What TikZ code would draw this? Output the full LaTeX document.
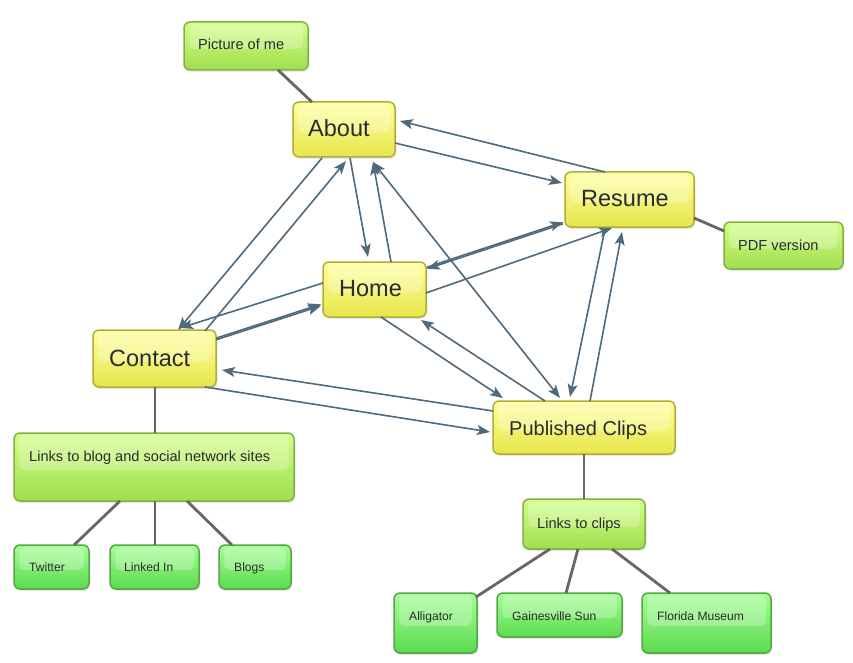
\documentclass[tikz,border=0pt]{standalone}
\usepackage{fontspec}
\setmainfont{Liberation Sans}
\usetikzlibrary{arrows.meta,fit,shadows}
\definecolor{yTop}{HTML}{FFFFA0}
\definecolor{yBot}{HTML}{E6E64A}
\definecolor{yBrd}{HTML}{B2AC3A}
\definecolor{gTop}{HTML}{D2FF88}
\definecolor{gBot}{HTML}{A0DE4E}
\definecolor{gBrd}{HTML}{86AE46}
\definecolor{lTop}{HTML}{A4FF94}
\definecolor{lBot}{HTML}{5CDA50}
\definecolor{lBrd}{HTML}{56A646}
\definecolor{arrc}{HTML}{4E6A7C}
\definecolor{hier}{HTML}{666666}
\definecolor{txtc}{HTML}{2B2B2B}
\begin{document}
\begin{tikzpicture}[x=1pt,y=-1pt,
  boxbase/.style={rounded corners=6pt, line width=1.5pt, inner sep=0pt,
    drop shadow={shadow xshift=1.5pt, shadow yshift=-2pt, opacity=0.18}},
  ybox/.style={boxbase, draw=yBrd, top color=yTop, bottom color=yBot},
  gbox/.style={boxbase, draw=gBrd, top color=gTop, bottom color=gBot},
  lbox/.style={boxbase, draw=lBrd, top color=lTop, bottom color=lBot},
  txt/.style={anchor=base west, inner sep=0pt, text=txtc},
  bigt/.style={txt, font=\fontsize{23.5}{28}\selectfont},
  midt/.style={txt, font=\fontsize{20}{24}\selectfont},
  smt/.style={txt, font=\fontsize{14.6}{17}\selectfont},
  xst/.style={txt, font=\fontsize{12.1}{14}\selectfont},
  arr/.style={draw=arrc, line width=1.6pt, -{Stealth[length=13pt,width=10pt,inset=3pt]}},
  harr/.style={draw=arrc, line width=1.6pt, {Stealth[length=13pt,width=10pt,inset=3pt]}-{Stealth[length=13pt,width=10pt,inset=3pt]}},
  hline/.style={draw=hier, line width=2.8pt},
  gloss/.style={fill=white, opacity=0.26, rounded corners=5pt}]
\useasboundingbox (0,0) rectangle (853,663);

% ---------- boxes
\node[gbox, fit={(184,22)(308,70)}]   (pic) {};
\node[ybox, fit={(293,102)(395,157)}] (about) {};
\node[ybox, fit={(565,172)(694,227)}] (resume) {};
\node[gbox, fit={(724,222)(843,269)}] (pdf) {};
\node[ybox, fit={(323,262)(426,317)}] (home) {};
\node[ybox, fit={(93,330)(216,387)}]  (contact) {};
\node[ybox, fit={(493,401)(675,454)}] (pc) {};
\node[gbox, fit={(14,433)(294,501)}]  (blog) {};
\node[lbox, fit={(14,545)(89,589)}]   (twitter) {};
\node[lbox, fit={(110,545)(199,589)}] (linkedin) {};
\node[lbox, fit={(219,545)(291,589)}] (blogs) {};
\node[gbox, fit={(523,499)(645,549)}] (clips) {};
\node[lbox, fit={(394,593)(477,653)}] (alligator) {};
\node[lbox, fit={(497,593)(622,637)}] (gsun) {};
\node[lbox, fit={(642,593)(771,653)}] (fmus) {};

% ---------- glossy highlights
\foreach \n in {pic,about,resume,pdf,home,contact,pc,blog,twitter,linkedin,blogs,clips,alligator,gsun,fmus}
  \fill[gloss] ([shift={(6,3)}]\n.north west) rectangle ([shift={(-6,3)}]\n.east);

% ---------- texts
\node[smt]  (picT)      at (198,49.8)  {Picture of me};
\node[bigt] (aboutT)    at (308,136.6) {About};
\node[bigt] (resumeT)   at (581,206.5) {Resume};
\node[smt]  (pdfT)      at (738,250.5) {PDF version};
\node[bigt] (homeT)     at (339,296.5) {Home};
\node[bigt] (contactT)  at (109,366.5) {Contact};
\node[midt] (pcT)       at (509,435.3) {Published Clips};
\node[smt]  (blogT)     at (29,461.4)  {Links to blog and social network sites};
\node[xst]  (twitterT)  at (29,571.4)  {Twitter};
\node[xst]  (linkedinT) at (124,571.4) {Linked In};
\node[xst]  (blogsT)    at (234,571.4) {Blogs};
\node[smt]  (clipsT)    at (537,528.4) {Links to clips};
\node[xst]  (alligatorT) at (409,620.4) {Alligator};
\node[xst]  (gsunT)     at (512,620.4) {Gainesville Sun};
\node[xst]  (fmusT)     at (657,620.4) {Florida Museum};

% ---------- hierarchy lines
\draw[hline] ([shift={(32,24)}]pic.center) -- ([shift={(-32,-27.5)}]about.center);
\draw[hline] ([shift={(64.5,18.5)}]resume.center) -- ([shift={(-59.5,-14.5)}]pdf.center);
\draw[hline] ([shift={(0.5,28.5)}]contact.center) -- ([shift={(1,-34)}]blog.center);
\draw[hline] ([shift={(-34,34)}]blog.center) -- ([shift={(22.5,-22)}]twitter.center);
\draw[hline] ([shift={(1,34)}]blog.center) -- ([shift={(0.5,-22)}]linkedin.center);
\draw[hline] ([shift={(33,34)}]blog.center) -- ([shift={(-23,-22)}]blogs.center);
\draw[hline] ([shift={(0,26.5)}]pc.center) -- ([shift={(0,-25)}]clips.center);
\draw[hline] ([shift={(-34,25)}]clips.center) -- ([shift={(40.5,-26)}]alligator.center);
\draw[hline] ([shift={(-6,25)}]clips.center) -- ([shift={(6.5,-22)}]gsun.center);
\draw[hline] ([shift={(28,25)}]clips.center) -- ([shift={(-36.5,-30)}]fmus.center);

% ---------- arrows
\draw[arr] ([shift={(51,13.5)}]about.center) -- ([shift={(-67.5,-16.5)}]resume.center);
\draw[arr] ([shift={(-24.5,-27.5)}]resume.center) -- ([shift={(56,-8.5)}]about.center);
\draw[arr] ([shift={(6,28.5)}]about.center) -- ([shift={(-6.5,-32.5)}]home.center);
\draw[arr] ([shift={(16.5,-27.5)}]home.center) -- ([shift={(29,32.5)}]about.center);
\draw[harr] ([shift={(29,32.5)}]about.center) -- ([shift={(-24,-29.5)}]pc.center);
\draw[arr] ([shift={(-22,28.5)}]about.center) -- ([shift={(23.5,-28.5)}]contact.center);
\draw[arr] ([shift={(50.5,-27.5)}]contact.center) -- ([shift={(2,31.5)}]about.center);
\draw[arr] ([shift={(-51.5,-6.5)}]home.center) -- ([shift={(25.5,-30.5)}]contact.center);
\draw[arr] ([shift={(61.5,-20.3)}]contact.center) -- ([shift={(-53.5,14.7)}]home.center);
\draw[arr] ([shift={(61.5,-18.7)}]contact.center) -- ([shift={(-53.5,16.3)}]home.center);
\draw[arr] ([shift={(52.5,-22.3)}]home.center) -- ([shift={(-66.5,22.7)}]resume.center);
\draw[arr] ([shift={(-66.5,24.3)}]resume.center) -- ([shift={(52.5,-20.7)}]home.center);
\draw[arr] ([shift={(51.5,3.5)}]home.center) -- ([shift={(-17.5,28.5)}]resume.center);
\draw[arr] ([shift={(-24.5,29.5)}]resume.center) -- ([shift={(-14,-30.5)}]pc.center);
\draw[arr] ([shift={(6,-26.5)}]pc.center) -- ([shift={(-7.5,32.5)}]resume.center);
\draw[arr] ([shift={(6.5,27.5)}]home.center) -- ([shift={(-81,-29.5)}]pc.center);
\draw[arr] ([shift={(-39,-26.5)}]pc.center) -- ([shift={(46.5,30.5)}]home.center);
\draw[arr] ([shift={(50.5,28.5)}]contact.center) -- ([shift={(-94,4.5)}]pc.center);
\draw[arr] ([shift={(-91,-16.5)}]pc.center) -- ([shift={(67.5,11.5)}]contact.center);
\end{tikzpicture}
\end{document}
